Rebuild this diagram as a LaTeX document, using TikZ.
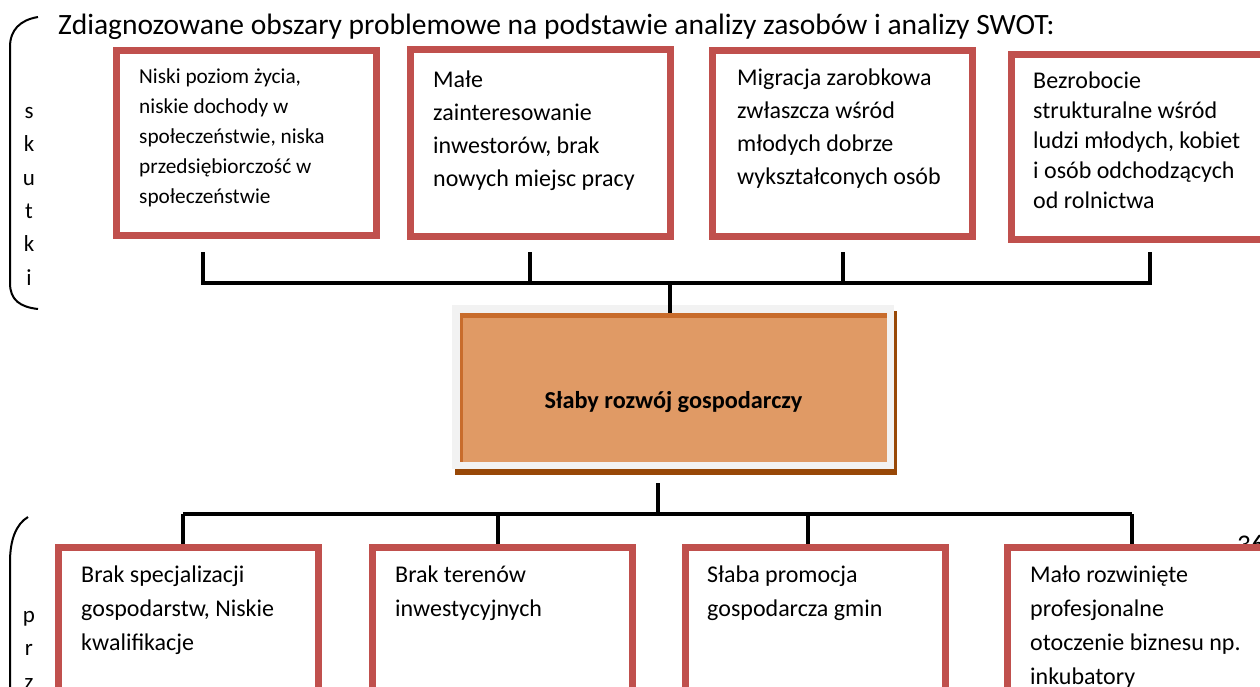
\documentclass[tikz,border=0pt]{standalone}
\usepackage{fontspec}
\setmainfont{Carlito}
\definecolor{boxred}{RGB}{192,80,77}
\definecolor{corefill}{RGB}{224,154,101}
\definecolor{coreedge}{RGB}{200,108,44}
\definecolor{coreshadow}{RGB}{152,72,7}
\definecolor{coreframe}{RGB}{242,242,242}
\tikzset{
  effbox/.style={draw=boxred, line width=7pt, fill=white, inner sep=0pt},
  txt/.style={anchor=north west, inner sep=0pt, align=left, font=\fontsize{24}{33}\selectfont},
  conn/.style={draw=black, line width=4pt},
  brace/.style={draw=black, line width=2pt},
  side/.style={anchor=north, inner sep=0pt, align=center, font=\fontsize{23}{33.4}\selectfont}
}
\newcommand{\fl}{\rule{0pt}{22pt}}
\begin{document}
\begin{tikzpicture}[x=1pt,y=-1pt]
\useasboundingbox (0,0) rectangle (1260,686);
\clip (0,0) rectangle (1260,686);

% heading
\node[anchor=base west, inner sep=0pt, font=\fontsize{29.5}{34}\selectfont] (title) at (58,34)
  {Zdiagnozowane obszary problemowe na podstawie analizy zasobów i analizy SWOT:};

% side labels with their brackets
\draw[brace] (38,17) .. controls (20,20) and (10,30) .. (10,47) -- (10,283) .. controls (10,300) and (20,307) .. (38,309);
\node[side] (skutki) at (29,96) {\fl s\\k\\u\\t\\k\\i};
\draw[brace] (28,517) .. controls (16,524) and (10,540) .. (10,562) -- (10,700);
\node[side] (przyczyny) at (29,600) {\fl p\\r\\z};

% page number behind the last cause box
\node[anchor=base west, inner sep=0pt, font=\fontsize{27}{30}\selectfont] (page) at (1237,553) {36};

% effects
\node[effbox, minimum width=260.5pt, minimum height=185.5pt] (e1) at (246.25,142.75) {};
\node[effbox, minimum width=259.5pt, minimum height=186.5pt] (e2) at (540.25,142.75) {};
\node[effbox, minimum width=260pt, minimum height=186pt] (e3) at (842,143) {};
\node[effbox, minimum width=264pt, minimum height=184.5pt] (e4) at (1143,146.75) {};

\node[txt, font=\fontsize{21.3}{30}\selectfont] (e1t) at (139,61)
  {\fl Niski poziom życia,\\niskie dochody w\\społeczeństwie, niska\\przedsiębiorczość w\\społeczeństwie};
\node[txt] (e2t) at (433,65)
  {\fl Małe\\zainteresowanie\\inwestorów, brak\\nowych miejsc pracy};
\node[txt] (e3t) at (737,63)
  {\fl Migracja zarobkowa\\zwłaszcza wśród\\młodych dobrze\\wykształconych osób};
\node[txt, font=\fontsize{24}{30}\selectfont] (e4t) at (1033,66)
  {\fl Bezrobocie\\strukturalne wśród\\ludzi młodych, kobiet\\i osób odchodzących\\od rolnictwa};

% central problem
\fill[coreshadow] (455,311) rectangle (897,475);
\fill[coreframe] (452,305) rectangle (894,469);
\node[fill=corefill, inner sep=0pt, minimum width=427pt, minimum height=149pt] (core) at (673.5,387.5) {};
\draw[coreedge, line width=5pt] ([yshift=-2.5pt]core.north west) -- ([yshift=-2.5pt]core.north east);
\draw[coreedge, line width=3pt] ([xshift=1.5pt]core.north west) -- ([xshift=1.5pt]core.south west);
\node[anchor=base, inner sep=0pt, font=\bfseries\fontsize{24.3}{28}\selectfont] (coret) at (673.5,408)
  {Słaby rozwój gospodarczy};

% causes
\node[effbox, minimum width=260pt, minimum height=213pt] (c1) at (188.5,653.5) {};
\node[effbox, minimum width=259.5pt, minimum height=212.5pt] (c2) at (502.25,653.75) {};
\node[effbox, minimum width=259.5pt, minimum height=212.5pt] (c3) at (815.25,653.75) {};
\node[effbox, minimum width=268pt, minimum height=212.5pt] (c4) at (1141,653.75) {};

\node[txt, font=\fontsize{24}{34}\selectfont] (c1t) at (81,560)
  {\fl Brak specjalizacji\\gospodarstw, Niskie\\kwalifikacje};
\node[txt, font=\fontsize{24}{34}\selectfont] (c2t) at (395,560)
  {\fl Brak terenów\\inwestycyjnych};
\node[txt, font=\fontsize{24}{34}\selectfont] (c3t) at (707,560)
  {\fl Słaba promocja\\gospodarcza gmin};
\node[txt, font=\fontsize{24}{34}\selectfont] (c4t) at (1030,560)
  {\fl Mało rozwinięte\\profesjonalne\\otoczenie biznesu np.\\inkubatory};

% upper tree: effects joined to the central problem
\coordinate (tk1) at (203,252);
\coordinate (tk2) at (530,252);
\coordinate (tk3) at (843,252);
\coordinate (tk4) at (1150,252);
\coordinate (ubar) at (670,283);
\draw[conn] (tk1) -- (tk1 |- ubar) -- (tk4 |- ubar) -- (tk4);
\draw[conn] (tk2) -- (tk2 |- ubar);
\draw[conn] (tk3) -- (tk3 |- ubar);
\draw[conn] (ubar) -- (ubar |- core.north);

% lower tree: central problem split into causes
\coordinate (lstem) at (658,483);
\coordinate (lbar) at (658,514);
\coordinate (bt1) at (183,514);
\coordinate (bt2) at (498,514);
\coordinate (bt3) at (808,514);
\coordinate (bt4) at (1132,514);
\draw[conn] (lstem) -- (lbar);
\draw[conn] (bt1) -- (bt4);
\draw[conn] (bt1) -- (bt1 |- c1.north);
\draw[conn] (bt2) -- (bt2 |- c2.north);
\draw[conn] (bt3) -- (bt3 |- c3.north);
\draw[conn] (bt4) -- (bt4 |- c4.north);
\end{tikzpicture}
\end{document}
